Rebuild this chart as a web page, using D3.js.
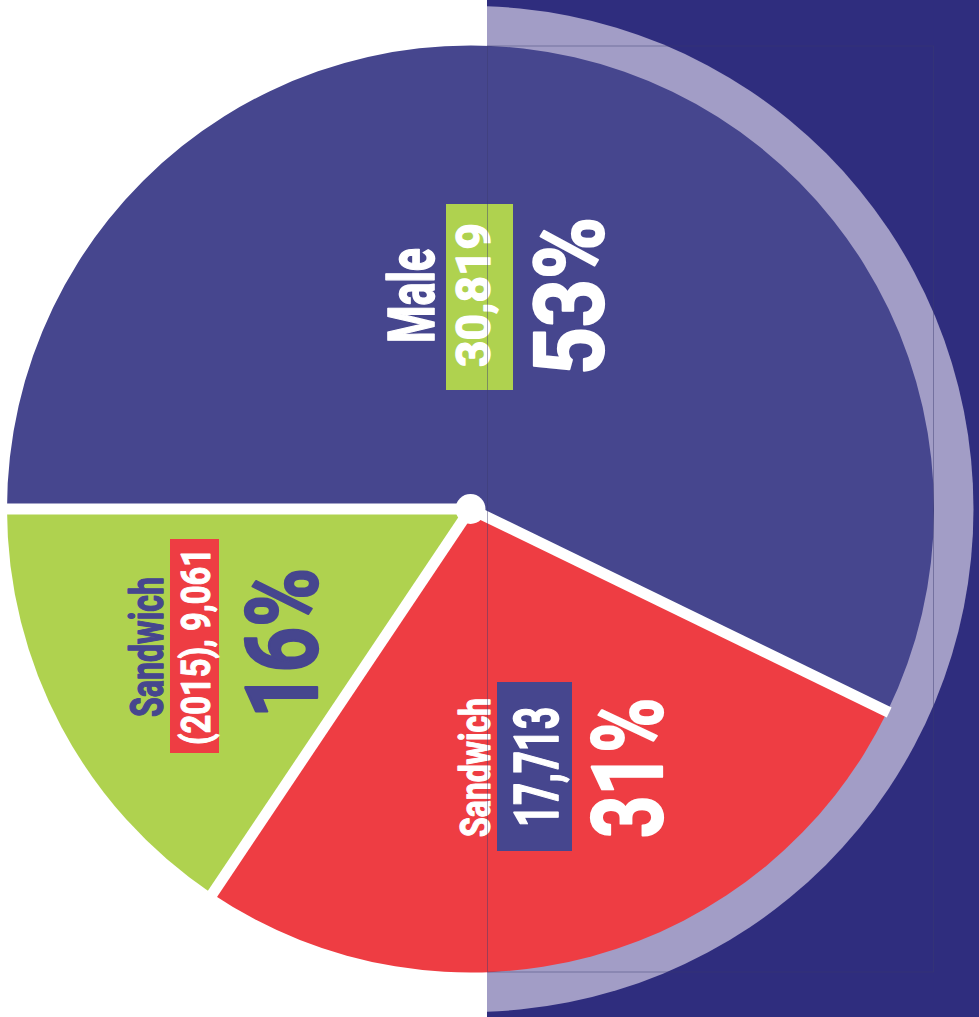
<!DOCTYPE html>
<html>
<head>
<meta charset="utf-8">
<script src="https://cdn.jsdelivr.net/npm/d3@7"></script>
<style>
  html, body { margin: 0; padding: 0; background: #ffffff; }
  svg { display: block; }
  text { font-family: Roboto, "Liberation Sans", sans-serif; font-weight: 700; }
</style>
</head>
<body>
<svg id="chart" width="979" height="1017"></svg>
<script>
// ---------- data ----------
const categories   = ["Male", "Sandwich", "Sandwich (2015)"];
const nameLabels   = ["Male", "Sandwich", "Sandwich"];
const yearLabels   = ["", "", "(2015), "];
const counts       = [30819, 17713, 9061];
const percentLabels = ["53%", "31%", "16%"];
// slice sizes as they are drawn in the original graphic (share of the full circle, %)
const drawnShares  = [57.2, 27.2, 15.6];

// ---------- styles ----------
const W = 979, H = 1017;
const cx = 470.5, cy = 509, R = 463.5;
const ringR = 503;
const navyX = 487;
const sliceColors = ["#46468e", "#ee3d43", "#afd24f"];
const boxColors   = ["#afd24f", "#46468e", "#ee3d43"];
const nameColors  = ["#ffffff", "#ffffff", "#46468e"];
const pctColors   = ["#ffffff", "#ffffff", "#46468e"];
const navy = "#2f2d7e", lavender = "#a29dc6";

// label layout, relative to the pie centre (rotated text reading bottom-to-top)
// bx: baseline x offset, by: start y offset, len: text length, fs: font size, sw: extra stroke weight
const labelLayout = [
  { name:{bx:-36.5, by:-166, len:95,  fs:64, sw:1.6},
    box:{x0:-24.5, x1:42.5, y0:-305, y1:-119},
    count:{bx:19.5, by:-142, len:144, fs:49, sw:1.4},
    pct:{bx:132.5, by:-134, len:158, fs:96, sw:2.2} },
  { name:{bx:19.5, by:328, len:139, fs:42, sw:1.2},
    box:{x0:26.5, x1:101.5, y0:173, y1:342},
    count:{bx:87.5, by:318, len:120, fs:62, sw:1.6},
    pct:{bx:191.5, by:329, len:140, fs:98, sw:2.2} },
  { name:{bx:-307.5, by:208, len:140, fs:46, sw:1.3},
    box:{x0:-300.5, x1:-251.5, y0:30, y1:244},
    count:{bx:-260.5, by:236, len:197, fs:41, sw:1.1},
    pct:{bx:-153.5, by:209, len:150, fs:101, sw:2.4} }
];

const svg = d3.select("#chart");

// navy panel on the right half
svg.append("rect")
  .attr("x", navyX).attr("y", 0)
  .attr("width", W - navyX).attr("height", H)
  .attr("fill", navy);

// lavender half disc behind the pie
svg.append("clipPath").attr("id", "rightHalf")
  .append("rect").attr("x", navyX).attr("y", 0).attr("width", W - navyX).attr("height", H);
svg.append("circle")
  .attr("cx", cx).attr("cy", cy).attr("r", ringR)
  .attr("fill", lavender)
  .attr("clip-path", "url(#rightHalf)");

// pie
const rows = categories.map((c, i) => ({
  category: c, name: nameLabels[i], year: yearLabels[i],
  count: counts[i], pct: percentLabels[i], share: drawnShares[i], i
}));

const pie = d3.pie()
  .sort(null)
  .value(d => d.share)
  .startAngle(-Math.PI / 2)
  .endAngle(3 * Math.PI / 2);
const arcs = pie(rows);
const arc = d3.arc().innerRadius(0).outerRadius(R);

const g = svg.append("g").attr("transform", `translate(${cx},${cy})`);
g.selectAll("path.slice")
  .data(arcs)
  .join("path")
  .attr("class", "slice")
  .attr("d", arc)
  .attr("fill", d => sliceColors[d.data.i]);

// white separators
g.selectAll("line.sep")
  .data(arcs)
  .join("line")
  .attr("class", "sep")
  .attr("x1", 0).attr("y1", 0)
  .attr("x2", d => (R + 2) * Math.sin(d.startAngle))
  .attr("y2", d => -(R + 2) * Math.cos(d.startAngle))
  .attr("stroke", "#ffffff")
  .attr("stroke-width", 11);

g.append("circle").attr("r", 15).attr("fill", "#ffffff");

// labels
const fmt = d3.format(",");
function rotText(parent, spec, str, color) {
  parent.append("text")
    .attr("transform", `translate(${spec.bx},${spec.by}) rotate(-90)`)
    .attr("font-size", spec.fs)
    .attr("textLength", spec.len)
    .attr("lengthAdjust", "spacingAndGlyphs")
    .attr("fill", color)
    .attr("stroke", color)
    .attr("stroke-width", spec.sw)
    .attr("stroke-linejoin", "round")
    .text(str);
}
rows.forEach((d, i) => {
  const L = labelLayout[i];
  const lg = g.append("g").attr("class", "label");
  lg.append("rect")
    .attr("x", L.box.x0).attr("y", L.box.y0)
    .attr("width", L.box.x1 - L.box.x0).attr("height", L.box.y1 - L.box.y0)
    .attr("fill", boxColors[i]);
  rotText(lg, L.name, d.name, nameColors[i]);
  rotText(lg, L.count, d.year + fmt(d.count), "#ffffff");
  rotText(lg, L.pct, d.pct, pctColors[i]);
});

// faint frame of the right half
svg.append("rect")
  .attr("x", navyX + 0.5).attr("y", cy - R + 0.5)
  .attr("width", cx + R - navyX - 1).attr("height", 2 * R - 1)
  .attr("fill", "none")
  .attr("stroke", "rgba(60,60,110,0.45)")
  .attr("stroke-width", 1);
</script>
</body>
</html>
